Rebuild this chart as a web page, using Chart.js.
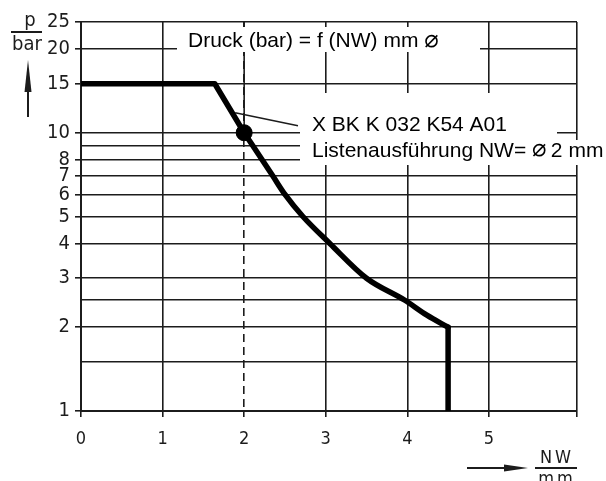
<!DOCTYPE html>
<html>
<head>
<meta charset="utf-8">
<script src="https://cdn.jsdelivr.net/npm/chart.js@4.4.1/dist/chart.umd.min.js"></script>
<style>
  html, body { margin: 0; padding: 0; background: #fff; }
  #wrap { width: 606px; height: 481px; }
</style>
</head>
<body>
<div id="wrap"><canvas id="chart" width="606" height="481"></canvas></div>
<script>
// Druck p (bar) ueber Nennweite NW (mm)
const curveX = [0, 1.64, 2.0, 2.35, 2.50, 2.72, 3.05, 3.50, 3.97, 4.24, 4.5, 4.5];
const curveY = [15, 15, 10, 7, 6, 5, 4, 3, 2.5, 2.21, 2, 1];

const markerX = [2];
const markerY = [10];
const leaderX = [1.89, 2.66];
const leaderY = [11.8, 10.6];

const xTickValues = [0, 1, 2, 3, 4, 5];
const xMax = 6.08;
const yGridValues = [1, 1.5, 2, 2.5, 3, 4, 5, 6, 7, 8, 9, 10, 15, 20, 25];
const yTickLabels = [1, 2, 3, 4, 5, 6, 7, 8, 10, 15, 20, 25];
const yMin = 1;
const yMax = 25;

const titleText = "Druck (bar) = f (NW) mm";
const noteLine1 = "X BK K 032 K54 A01";
const noteLine2 = "Listenausführung NW=";
const noteLine2End = "2 mm";
const diameterSign = "⌀";

const INK = "#1c1c1c";
const axisFont = "'DejaVu Sans Condensed', 'Liberation Sans Narrow', 'DejaVu Sans', sans-serif";
const textFont = "'Liberation Sans', Arial, sans-serif";

const toPoints = (xs, ys) => xs.map((x, i) => ({ x: x, y: ys[i] }));

// straight head up to the marker, smooth middle part, vertical foot
const n = curveX.length;
const kneeIdx = 2;
const footIdx = n - 2;
const curveHead = toPoints(curveX.slice(0, kneeIdx + 1), curveY.slice(0, kneeIdx + 1));
const curveBody = toPoints(curveX.slice(kneeIdx, footIdx + 1), curveY.slice(kneeIdx, footIdx + 1));
const curveFoot = toPoints(curveX.slice(footIdx), curveY.slice(footIdx));

// draws the diameter sign scaled to a given ink width, returns the ink width
const drawSign = (c, x, bottom, inkW) => {
    c.font = "100px 'DejaVu Sans'";
    let m = c.measureText(diameterSign);
    const ink = m.actualBoundingBoxLeft + m.actualBoundingBoxRight;
    const size = (100 * inkW) / ink;
    c.font = size + "px 'DejaVu Sans'";
    m = c.measureText(diameterSign);
    c.fillText(diameterSign, x + m.actualBoundingBoxLeft, bottom - m.actualBoundingBoxDescent);
    return inkW;
};

const labelsPlugin = {
    id: "labels",
    afterDatasetsDraw(chart) {
        const c = chart.ctx;
        c.save();

        // white boxes behind the texts, they hide the grid
        c.fillStyle = "#fff";
        c.fillRect(177, 27, 303, 25);
        c.fillRect(300, 93, 257, 47);
        c.fillRect(300, 140, 306, 25);

        c.fillStyle = "#000";
        c.textBaseline = "alphabetic";
        c.textAlign = "left";

        c.font = "21px " + textFont;
        c.fillText(titleText, 188, 47);
        let x = 188 + c.measureText(titleText + " ").width;
        drawSign(c, x, 48, 13);

        c.font = "21px " + textFont;
        c.fillText(noteLine1, 312, 131);
        c.fillText(noteLine2, 312, 157);
        x = 312 + c.measureText(noteLine2 + " ").width;
        x += drawSign(c, x, 157, 13);
        c.font = "21px " + textFont;
        c.fillText(" " + noteLine2End, x, 157);

        c.restore();
    },
    afterDraw(chart) {
        const c = chart.ctx;
        c.save();
        c.fillStyle = INK;
        c.strokeStyle = INK;

        // p / bar with arrow
        c.font = "20px " + axisFont;
        c.textAlign = "center";
        c.textBaseline = "alphabetic";
        c.fillText("p", 30, 26);
        c.fillText("bar", 27, 50);
        c.lineWidth = 2;
        c.beginPath();
        c.moveTo(11, 32);
        c.lineTo(42, 32);
        c.moveTo(28, 117);
        c.lineTo(28, 88);
        c.stroke();
        c.beginPath();
        c.moveTo(28, 60);
        c.lineTo(24.5, 92);
        c.lineTo(31.5, 92);
        c.closePath();
        c.fill();

        // NW / mm with arrow
        c.beginPath();
        c.moveTo(467, 468);
        c.lineTo(506, 468);
        c.moveTo(535, 468);
        c.lineTo(577, 468);
        c.stroke();
        c.beginPath();
        c.moveTo(528, 468);
        c.lineTo(504, 464.5);
        c.lineTo(504, 471.5);
        c.closePath();
        c.fill();
        c.font = "18px " + axisFont;
        c.letterSpacing = "3px";
        c.fillText("NW", 557, 463);
        c.fillText("mm", 557, 484);

        c.restore();
    }
};

const curveStyle = {
    showLine: true,
    borderColor: "#000",
    borderWidth: 5.5,
    borderJoinStyle: "round",
    borderCapStyle: "round",
    pointRadius: 0,
};

document.addEventListener("DOMContentLoaded", () => {
    const ctx = document.getElementById("chart");

    new Chart(ctx, {
        type: "scatter",
        data: {
            datasets: [
                { label: "p", data: curveHead, tension: 0, ...curveStyle },
                { label: "p", data: curveBody, cubicInterpolationMode: "monotone", ...curveStyle },
                { label: "p", data: curveFoot, tension: 0, ...curveStyle, borderCapStyle: "butt" },
                {
                    label: "Listenausführung",
                    data: toPoints(markerX, markerY),
                    pointRadius: 8,
                    pointBackgroundColor: "#000",
                    pointBorderColor: "#000",
                },
                {
                    label: "NW 2",
                    data: [{ x: markerX[0], y: markerY[0] }, { x: markerX[0], y: yMax }],
                    showLine: true,
                    borderColor: INK,
                    borderWidth: 1.6,
                    pointRadius: 0,
                },
                {
                    label: "Hinweis",
                    data: toPoints(leaderX, leaderY),
                    showLine: true,
                    borderColor: INK,
                    borderWidth: 1.4,
                    pointRadius: 0,
                },
            ],
        },
        options: {
            responsive: false,
            animation: false,
            layout: { padding: { top: 22, right: 29, left: 0, bottom: 0 } },
            plugins: {
                legend: { display: false },
                tooltip: { enabled: false },
            },
            scales: {
                x: {
                    type: "linear",
                    min: 0,
                    max: xMax,
                    afterBuildTicks: (scale) => {
                        scale.ticks = xTickValues.concat([xMax]).map((v) => ({ value: v }));
                    },
                    afterFit: (scale) => {
                        scale.height = 70;
                    },
                    ticks: {
                        autoSkip: false,
                        maxRotation: 0,
                        padding: 12,
                        color: INK,
                        font: { family: axisFont, size: 18 },
                        callback: (v) => (xTickValues.includes(v) ? String(v) : ""),
                    },
                    grid: {
                        color: INK,
                        lineWidth: 1.6,
                        tickLength: 6,
                        tickColor: INK,
                    },
                    border: {
                        color: INK,
                        width: 2,
                        dash: (c) => (c.tick && c.tick.value === markerX[0] ? [8, 5] : []),
                    },
                },
                y: {
                    type: "logarithmic",
                    min: yMin,
                    max: yMax,
                    afterBuildTicks: (scale) => {
                        scale.ticks = yGridValues.map((v) => ({ value: v }));
                    },
                    afterFit: (scale) => {
                        scale.width = 81;
                    },
                    ticks: {
                        autoSkip: false,
                        padding: 5,
                        color: INK,
                        font: { family: axisFont, size: 20 },
                        callback: (v) => (yTickLabels.includes(v) ? String(v) : ""),
                    },
                    grid: {
                        color: INK,
                        lineWidth: 1.6,
                        tickLength: 6,
                        tickColor: (c) => (c.tick && yTickLabels.includes(c.tick.value) ? INK : "rgba(0,0,0,0)"),
                    },
                    border: { color: INK, width: 2 },
                },
            },
        },
        plugins: [labelsPlugin],
    });
});
</script>
</body>
</html>
